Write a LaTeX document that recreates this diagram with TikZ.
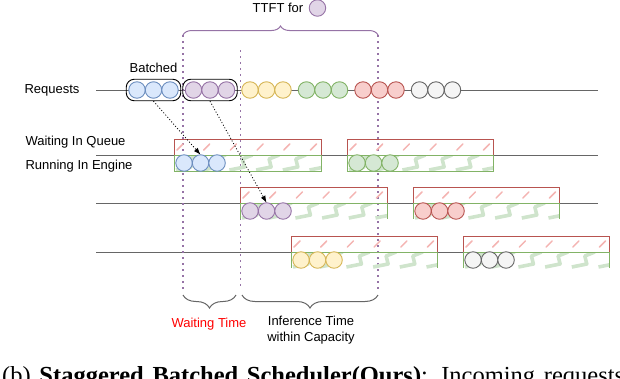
\documentclass[tikz,border=0pt]{standalone}
\usepackage{fontspec}
\setmainfont{Liberation Sans}
\newfontfamily\capfont{Liberation Serif}
\usepackage{tikz}
\usetikzlibrary{positioning,arrows.meta,fit,decorations.pathreplacing}

\definecolor{bfill}{HTML}{DAE8FC}
\definecolor{bline}{HTML}{6C8EBF}
\definecolor{pfill}{HTML}{E1D5E7}
\definecolor{pline}{HTML}{9673A6}
\definecolor{yfill}{HTML}{FFF2CC}
\definecolor{yline}{HTML}{D6B656}
\definecolor{gfill}{HTML}{D5E8D4}
\definecolor{gline}{HTML}{82B366}
\definecolor{rfill}{HTML}{F8CECC}
\definecolor{rline}{HTML}{B85450}
\definecolor{kfill}{HTML}{F5F5F5}
\definecolor{kline}{HTML}{666666}
\definecolor{hatchred}{HTML}{F4B4B2}
\definecolor{zzgreen}{HTML}{CFE4CC}

\begin{document}
\begin{tikzpicture}[
    x=1pt, y=-1pt,
    node distance=0pt,
    font=\fontsize{13}{16}\selectfont,
    req/.style={
        circle,
        draw=#1line,
        fill=#1fill,
        line width=0.9pt,
        minimum size=16.5pt,
        inner sep=0pt,
        outer sep=0pt
    },
    timeline/.style={
        draw=kline,
        line width=1pt
    },
    batchbox/.style={
        rectangle,
        rounded corners=8pt,
        draw,
        line width=0.9pt,
        inner sep=2.5pt
    },
    hatchline/.style={
        draw=hatchred,
        line width=1.5pt,
        line cap=round
    },
    zzline/.style={
        draw=zzgreen,
        line width=3.6pt,
        line join=round
    },
    queuebox/.style={
        rectangle,
        draw=rline,
        line width=1pt,
        minimum width=#1,
        minimum height=16pt,
        inner sep=0pt,
        outer sep=0pt,
        anchor=north west,
        path picture={
            \foreach \k in {0,...,5}
            \draw[hatchline] ([xshift=\k*26.7pt+3pt, yshift=5pt]path picture bounding box.south west) -- ++(6pt,6pt);
        }
    },
    runbox/.style={
        rectangle,
        draw=gline,
        line width=1pt,
        minimum width=#1,
        minimum height=16pt,
        inner sep=0pt,
        outer sep=0pt,
        path picture={
            \foreach \k in {0,...,5}
            \draw[zzline] ([xshift=\k*26.7pt+2pt, yshift=1pt]path picture bounding box.south west)
                -- ++(15pt,3pt) -- ++(-2pt,8pt) -- ++(10pt,4pt);
        }
    },
    openrun/.style={
        runbox=#1,
        draw=none
    },
    vline/.style={
        draw=pline,
        line width=1.5pt,
        dash pattern=on 1.5pt off 4.5pt
    },
    flow/.style={
        -{Latex[length=7pt,width=5pt]},
        line width=0.8pt,
        dash pattern=on 1pt off 2pt
    }
]

\useasboundingbox (0,0) rectangle (620,378);
\clip (0,0) rectangle (620,378);

% Row labels
\node[anchor=west] (reqlbl) at (21,90) {Requests};
\node[anchor=west] (queuelbl) at (22,142) {Waiting In Queue};
\node[anchor=west] (enginelbl) at (22,166) {Running In Engine};

% Time lines
\draw[timeline] (96,90) -- (598,90);
\draw[timeline] (96,155) -- (598,155);
\draw[timeline] (96,203) -- (598,203);
\draw[timeline] (96,252) -- (598,252);

% TTFT marks
\coordinate (tl) at (183,35);
\coordinate (tr) at (378,35);
\coordinate (tm) at (240.5,50);
\coordinate (bl) at (183,290);
\coordinate (br) at (378,290);
\coordinate (bm) at (240.5,286);

\draw[vline] (tl) -- (bl);
\draw[vline] (tm) -- (bm);
\draw[vline] (tr) -- (br);

\draw[draw=pline, line width=1pt, decorate, decoration={brace, amplitude=9pt}] (tl) -- (tr);

\node (ttft) at (278,8) {TTFT for};
\node[req=p, right=2.4pt of ttft] (ttftdot) {};

% Incoming requests
\foreach \c [count=\i from 0] in {b,p,y,g,r,k} {
    \node[req=\c] (r\c1) at (137+56.5*\i,90) {};
    \node[req=\c, right=of r\c1] (r\c2) {};
    \node[req=\c, right=of r\c2] (r\c3) {};
}

\node[batchbox, fit=(rb1)(rb3), label={[label distance=3pt]above:Batched}] (bbatch) {};
\node[batchbox, fit=(rp1)(rp3)] (pbatch) {};

% Engine rows
\node[queuebox=147pt] (q1a) at (174,139) {};
\node[runbox=147pt, below=of q1a] (e1a) {};
\node[queuebox=146pt] (q1b) at (347,139) {};
\node[runbox=146pt, below=of q1b] (e1b) {};

\node[queuebox=147pt] (q2a) at (240,187) {};
\node[openrun=147pt, below=of q2a] (e2a) {};
\node[queuebox=146pt] (q2b) at (413,187) {};
\node[openrun=146pt, below=of q2b] (e2b) {};

\node[queuebox=146pt] (q3a) at (291,236) {};
\node[openrun=146pt, below=of q3a] (e3a) {};
\node[queuebox=146pt] (q3b) at (463,236) {};
\node[openrun=146pt, below=of q3b] (e3b) {};

\foreach \e in {e2a,e2b,e3a,e3b}
    \draw[gline, line width=1pt] (\e.south west) |- (\e.north east) -- (\e.south east);

\foreach \e/\c in {e1a/b, e1b/g, e2a/p, e2b/r, e3a/y, e3b/k} {
    \node[req=\c, right=1.8pt of \e.west] (\e1) {};
    \node[req=\c, right=of \e1] (\e2) {};
    \node[req=\c, right=of \e2] (\e3) {};
}

% Dispatch
\draw[flow] (bbatch.south) -- (e1a2.north);
\draw[flow] (pbatch.south) -- (e2a2.north);

% Time spans
\draw[draw=kline, line width=1pt, decorate, decoration={brace, amplitude=13pt}] (236,295) -- (183,295);
\draw[draw=kline, line width=1pt, decorate, decoration={brace, amplitude=13pt}] (378,295) -- (242,295);

\node[text=red] (waitlbl) at (209,324) {Waiting Time};
\node[align=center] (inflbl) at (311,330) {Inference Time\\within Capacity};

% Caption
\node[anchor=base west, inner sep=0pt, font=\capfont\fontsize{24.5}{29}\selectfont] (caption) at (2,383)
{\makebox[622pt][s]{(b) \textbf{Staggered Batched Scheduler(Ours)}: Incoming requests}};

\end{tikzpicture}
\end{document}
